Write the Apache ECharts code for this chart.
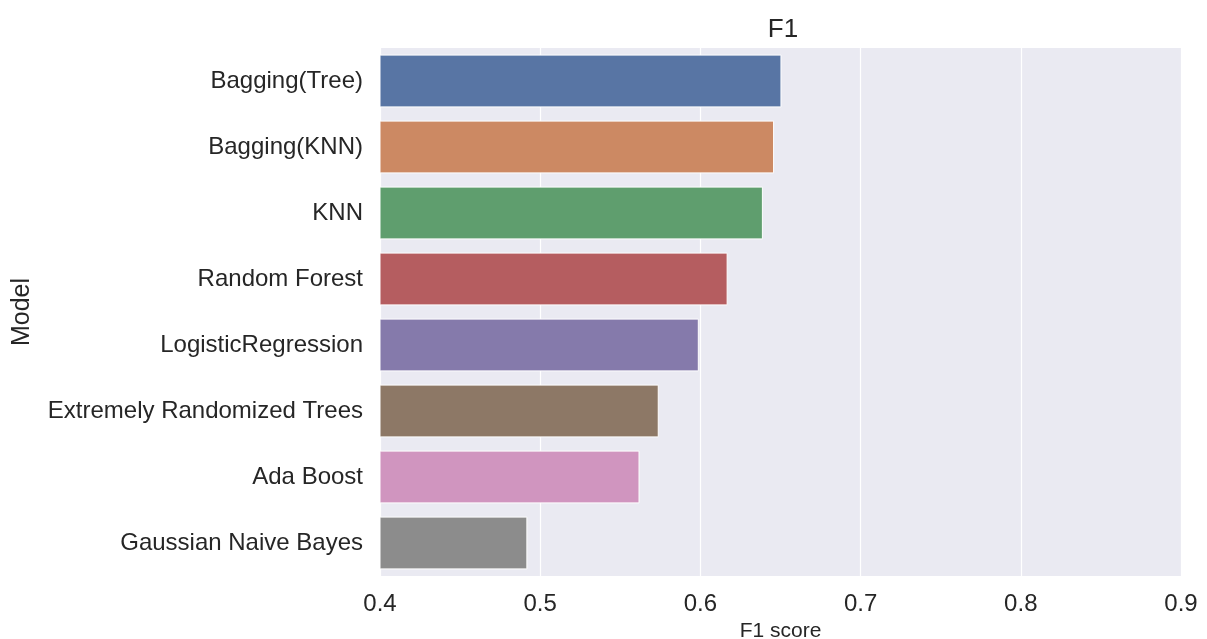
<!DOCTYPE html>
<html>
<head>
<meta charset="utf-8">
<style>
  html, body { margin: 0; padding: 0; background: #ffffff; }
  #chart { width: 1207px; height: 639px; }
</style>
<script src="https://cdn.jsdelivr.net/npm/echarts@6/dist/echarts.min.js"></script>
</head>
<body>
<div id="chart"></div>
<script>
// Models, ordered from best to worst F1
const models = [
  'Bagging(Tree)',
  'Bagging(KNN)',
  'KNN',
  'Random Forest',
  'LogisticRegression',
  'Extremely Randomized Trees',
  'Ada Boost',
  'Gaussian Naive Bayes'
];

// F1 score per model
const f1Scores = [0.6506, 0.646, 0.639, 0.617, 0.599, 0.574, 0.562, 0.492];

// X axis ticks
const xTicks = [0.4, 0.5, 0.6, 0.7, 0.8, 0.9];

// Muted seaborn "deep" palette
const palette = ['#5875a4', '#cc8963', '#5f9e6e', '#b55d60', '#857aab', '#8d7866', '#d095bf', '#8c8c8c'];

const font = '"Liberation Sans", Arial, sans-serif';
const textColor = '#262626';

const chart = echarts.init(document.getElementById('chart'), null, { renderer: 'canvas' });

chart.setOption({
  animation: false,
  backgroundColor: '#ffffff',
  title: {
    text: 'F1',
    left: 778,
    top: 12,
    textAlign: 'center',
    textStyle: { fontFamily: font, fontSize: 26, fontWeight: 'normal', color: textColor }
  },
  grid: {
    left: 380,
    right: 26,
    top: 48,
    bottom: 63,
    show: true,
    backgroundColor: '#eaeaf2',
    borderWidth: 0,
    containLabel: false,
    outerBoundsMode: 'none'
  },
  xAxis: {
    type: 'value',
    min: xTicks[0],
    max: xTicks[xTicks.length - 1],
    interval: 0.1,
    name: 'F1 score',
    nameLocation: 'middle',
    nameGap: 45,
    nameTextStyle: { fontFamily: font, fontSize: 21, color: textColor },
    axisLine: { show: false },
    axisTick: { show: false },
    axisLabel: {
      fontFamily: font, fontSize: 24, color: textColor, margin: 16,
      formatter: v => v.toFixed(1)
    },
    splitLine: { show: true, lineStyle: { color: '#ffffff', width: 1.2 } }
  },
  yAxis: {
    type: 'category',
    data: models,
    inverse: true,
    name: 'Model',
    nameLocation: 'middle',
    nameRotate: 90,
    nameGap: 345,
    nameTextStyle: { fontFamily: font, fontSize: 25, color: textColor },
    axisLine: { show: false },
    axisTick: { show: false },
    axisLabel: { fontFamily: font, fontSize: 24, color: textColor, margin: 17 },
    splitLine: { show: false }
  },
  series: [{
    type: 'bar',
    barCategoryGap: '20%',
    data: f1Scores.map((v, i) => ({
      value: v,
      itemStyle: { color: palette[i], borderColor: '#ffffff', borderWidth: 1 }
    }))
  }]
});
</script>
</body>
</html>
